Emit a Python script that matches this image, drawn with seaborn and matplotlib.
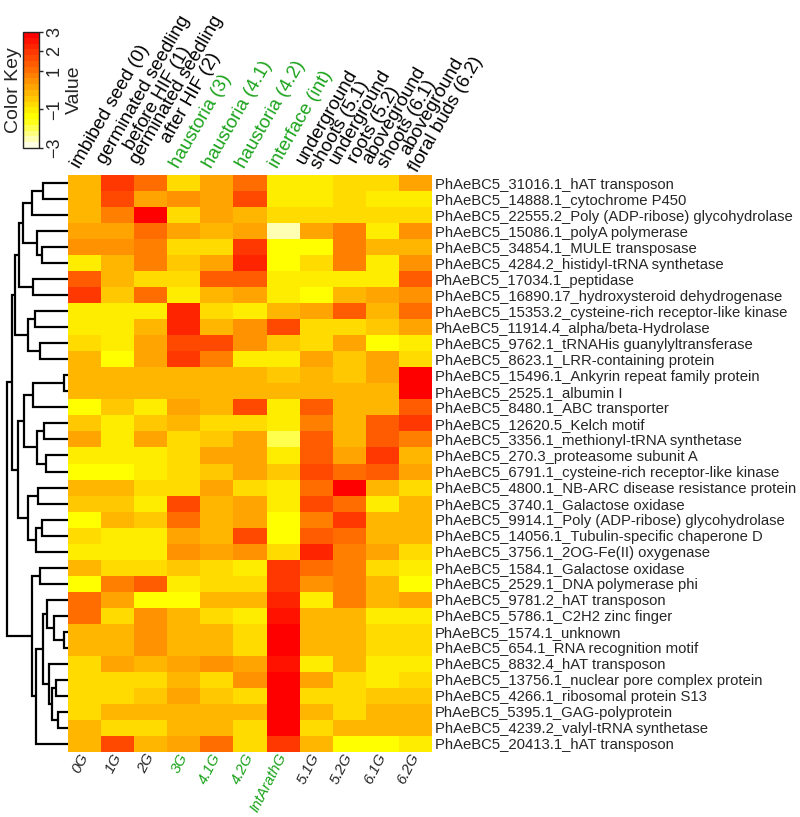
import numpy as np
import pandas as pd
import matplotlib
matplotlib.use("Agg")
import matplotlib.pyplot as plt
import seaborn as sns
from matplotlib.colors import ListedColormap, hsv_to_rgb, Normalize
from matplotlib.cm import ScalarMappable

samples = ["0G", "1G", "2G", "3G", "4.1G", "4.2G", "IntArathG", "5.1G", "5.2G", "6.1G", "6.2G"]
stages = ["imbibed seed (0)", "germinated seedling\nbefore HIF (1)", "germinated seedling\nafter HIF (2)",
          "haustoria (3)", "haustoria (4.1)", "haustoria (4.2)", "interface (int)",
          "underground\nshoots (5.1)", "underground\nroots (5.2)", "aboveground\nshoots (6.1)",
          "aboveground\nfloral buds (6.2)"]
green_samples = ["3G", "4.1G", "4.2G", "IntArathG"]

genes = [
    "PhAeBC5_31016.1_hAT transposon", "PhAeBC5_14888.1_cytochrome P450",
    "PhAeBC5_22555.2_Poly (ADP-ribose) glycohydrolase", "PhAeBC5_15086.1_polyA polymerase",
    "PhAeBC5_34854.1_MULE transposase", "PhAeBC5_4284.2_histidyl-tRNA synthetase",
    "PhAeBC5_17034.1_peptidase", "PhAeBC5_16890.17_hydroxysteroid dehydrogenase",
    "PhAeBC5_15353.2_cysteine-rich receptor-like kinase", "PhAeBC5_11914.4_alpha/beta-Hydrolase",
    "PhAeBC5_9762.1_tRNAHis guanylyltransferase", "PhAeBC5_8623.1_LRR-containing protein",
    "PhAeBC5_15496.1_Ankyrin repeat family protein", "PhAeBC5_2525.1_albumin I",
    "PhAeBC5_8480.1_ABC transporter", "PhAeBC5_12620.5_Kelch motif",
    "PhAeBC5_3356.1_methionyl-tRNA synthetase", "PhAeBC5_270.3_proteasome subunit A",
    "PhAeBC5_6791.1_cysteine-rich receptor-like kinase", "PhAeBC5_4800.1_NB-ARC disease resistance protein",
    "PhAeBC5_3740.1_Galactose oxidase", "PhAeBC5_9914.1_Poly (ADP-ribose) glycohydrolase",
    "PhAeBC5_14056.1_Tubulin-specific chaperone D", "PhAeBC5_3756.1_2OG-Fe(II) oxygenase",
    "PhAeBC5_1584.1_Galactose oxidase", "PhAeBC5_2529.1_DNA polymerase phi",
    "PhAeBC5_9781.2_hAT transposon", "PhAeBC5_5786.1_C2H2 zinc finger",
    "PhAeBC5_1574.1_unknown", "PhAeBC5_654.1_RNA recognition motif",
    "PhAeBC5_8832.4_hAT transposon", "PhAeBC5_13756.1_nuclear pore complex protein",
    "PhAeBC5_4266.1_ribosomal protein S13", "PhAeBC5_5395.1_GAG-polyprotein",
    "PhAeBC5_4239.2_valyl-tRNA synthetase", "PhAeBC5_20413.1_hAT transposon",
]

values = [
    [-0.1, 1.9, 1.0, -0.8, 0.2, 1.0, -1.2, -1.0, -0.7, -0.7, 0.2],
    [-0.1, 1.6, 0.2, 0.5, 0.1, 1.6, -1.0, -1.0, -0.7, -1.1, -1.1],
    [-0.2, 0.6, 2.7, -0.7, 0.1, -0.2, -0.7, -0.7, -0.7, -0.7, -0.7],
    [0.2, 0.2, 0.9, 0.1, -0.2, 0.2, -2.5, 0.2, 0.6, -1.0, 0.5],
    [0.5, 0.5, 0.6, -0.7, -0.7, 2.0, -1.4, -1.4, 0.6, -0.2, -0.1],
    [-1.1, -0.2, 0.6, -0.4, 0.2, 2.3, -1.3, -0.7, 0.6, -1.0, 0.5],
    [1.3, -0.2, -0.7, -0.7, 1.3, 1.3, -1.0, -1.0, -1.0, -1.0, 1.4],
    [2.0, -0.5, 0.9, -1.1, -0.2, 0.2, -1.0, -1.4, -0.2, 0.1, 0.5],
    [-1.0, -1.0, -1.0, 2.1, -0.7, -1.0, -0.2, 0.2, 1.4, -0.2, 0.9],
    [-1.0, -1.0, -0.2, 2.1, -0.1, 0.5, 1.6, -0.7, -0.7, -0.5, 0.1],
    [-0.7, -1.0, 0.1, 1.8, 1.6, 0.5, -0.4, -0.7, 0.1, -1.5, -1.0],
    [-0.2, -1.4, 0.1, 2.0, 0.75, -1.0, -1.0, 0.3, -0.5, 0.1, -0.8],
    [-0.2, -0.2, -0.2, -0.2, -0.2, -0.2, -0.5, -0.2, -0.5, 0.2, 3.0],
    [-0.1, -0.1, -0.1, -0.1, -0.1, -0.1, -0.1, -0.1, -0.1, -0.1, 3.0],
    [-1.3, -0.4, -1.0, 0.1, -0.2, 1.8, -1.0, 1.4, -0.2, -0.1, 1.3],
    [-0.4, -1.0, -0.5, -0.2, -0.7, -0.7, -1.0, 0.6, -0.2, 1.3, 2.0],
    [0.2, -1.0, 0.2, -0.8, -0.4, 0.1, -1.9, 1.3, -0.2, 1.3, 0.75],
    [-1.0, -1.0, -1.0, -0.7, 0.3, 0.1, -1.0, 1.3, 0.1, 2.0, -0.1],
    [-1.5, -1.5, -1.0, -0.7, -0.4, 0.1, -0.5, 1.6, 0.9, 1.3, 0.2],
    [-0.2, -0.2, -0.7, -0.7, 0.1, -0.8, -1.0, 1.0, 2.8, -0.2, -0.8],
    [-0.4, -0.4, -1.0, 1.6, -0.2, 0.1, -1.0, 1.6, 0.9, -1.1, -0.2],
    [-1.4, -0.2, -0.5, 1.0, -0.2, 0.1, -1.4, 0.6, 1.9, -0.2, -0.2],
    [-0.6, -1.0, -1.0, 0.1, -0.2, 1.6, -1.4, 1.3, 0.9, -0.2, -0.2],
    [-1.0, -1.0, -1.0, 0.5, 0.1, 0.5, -0.7, 2.3, 0.6, 0.1, -0.9],
    [-0.1, -0.7, -0.7, -0.4, -0.8, -1.1, 1.9, 1.1, 0.75, -0.8, -1.0],
    [-1.4, 0.75, 1.3, -1.0, -0.7, -0.7, 1.9, 0.5, 0.6, -0.2, -1.4],
    [0.9, 0.2, -1.4, -1.4, -0.2, -0.1, 2.1, -1.0, 0.6, -0.2, 0.2],
    [0.9, -0.7, 0.5, -0.2, -0.7, -1.0, 2.5, -0.2, -0.2, -1.0, -1.0],
    [-0.2, -0.2, 0.5, -0.2, -0.2, -0.7, 2.7, -0.2, -0.2, -0.7, -0.7],
    [-0.2, -0.2, 0.5, -0.2, -0.2, -0.7, 3.0, -0.2, -0.2, -0.7, -0.7],
    [-0.7, 0.1, -0.2, 0.1, 0.5, 0.1, 2.6, -1.1, -0.2, -1.0, -1.0],
    [-0.6, -0.6, -0.6, -0.1, -0.6, 0.4, 2.9, 0.1, -0.7, -1.0, -0.6],
    [-0.6, -0.6, -0.4, 0.3, -0.5, -0.8, 2.9, -0.7, -0.7, -0.4, -0.5],
    [-0.6, -0.3, -0.3, -0.3, -0.3, -0.3, 3.0, -0.3, -0.6, -0.2, -0.3],
    [-0.3, -0.7, -0.7, -0.3, -0.3, -0.7, 3.0, -0.7, -0.2, -0.2, -0.2],
    [-0.1, 1.6, -0.1, 0.1, 1.1, -0.7, 1.9, -0.1, -1.5, -1.5, -1.1],
]

# row dendrogram: (left, right, height); leaves 0..35, merge k -> node 36+k
row_merges = [
    (0, 1, 25), (36, 2, 36), (4, 5, 26), (3, 38, 31), (37, 39, 45),
    (6, 7, 35), (40, 41, 49), (8, 9, 33), (10, 11, 28), (43, 44, 40),
    (42, 45, 53), (12, 13, 4), (47, 14, 35), (15, 16, 24), (17, 18, 22),
    (49, 50, 31), (48, 51, 44), (19, 20, 30), (21, 22, 26), (54, 23, 32),
    (53, 55, 40), (52, 56, 50), (46, 57, 56), (24, 25, 28), (28, 29, 4),
    (27, 60, 14), (26, 61, 21), (31, 32, 12), (33, 34, 10), (63, 64, 16),
    (30, 65, 19), (62, 66, 25), (67, 35, 32), (59, 68, 36), (58, 69, 61),
]


def heat_colors(n):
    # R heat.colors, reversed (low = pale yellow, high = red)
    j = n // 4
    i = n - j
    cols = [hsv_to_rgb((h, 1, 1)) for h in np.linspace(0, 1 / 6, i)]
    if j > 0:
        cols += [hsv_to_rgb((1 / 6, s, 1)) for s in np.linspace(1 - 1 / (2 * j), 1 / (2 * j), j)]
    return cols[::-1]


cmap = ListedColormap(heat_colors(20))
df = pd.DataFrame(values, index=genes, columns=samples)

sns.set_style("white")
plt.rcParams["font.family"] = ["Liberation Sans", "DejaVu Sans"]

W, H = 800, 817
fig = plt.figure(figsize=(W / 100, H / 100), dpi=100)


def box(x0, y0, x1, y1):
    return [x0 / W, 1 - y1 / H, (x1 - x0) / W, (y1 - y0) / H]


HX0, HY0, HX1, HY1 = 68, 175, 432, 752
cw = (HX1 - HX0) / len(samples)
rh = (HY1 - HY0) / len(genes)

# heatmap
ax = fig.add_axes(box(HX0, HY0, HX1, HY1))
sns.heatmap(df, ax=ax, cmap=cmap, vmin=-3, vmax=3, cbar=False,
            xticklabels=True, yticklabels=True)
ax.yaxis.tick_right()
ax.tick_params(axis="y", length=0, pad=2, labelsize=10.7, rotation=0)
ax.tick_params(axis="x", length=0, pad=1.5, labelsize=10.8)
ax.set_xlabel("")
ax.set_ylabel("")
for lab in ax.get_yticklabels():
    lab.set_horizontalalignment("left")
for lab in ax.get_xticklabels():
    lab.set_rotation(63)
    lab.set_ha("right")
    lab.set_va("center")
    lab.set_rotation_mode("anchor")
    lab.set_fontstyle("italic")
    if lab.get_text() in green_samples:
        lab.set_color("#1aa31a")

# top labels
for j, s in enumerate(stages):
    col = "#1aa31a" if samples[j] in green_samples else "black"
    ax.text(j + 0.5 - 9 / cw, -8 / rh, s, rotation=60, rotation_mode="anchor",
            ha="left", va="center", multialignment="center", fontsize=13.5,
            linespacing=0.88, color=col, clip_on=False)

# row dendrogram
dax = fig.add_axes(box(5, HY0, HX0, HY1))
n = len(genes)
pos = {i: (i + 0.5, 0.0) for i in range(n)}
for k, (a, b, h) in enumerate(row_merges):
    ya, ha = pos[a]
    yb, hb = pos[b]
    dax.plot([ha, h, h, hb], [ya, ya, yb, yb], color="black", lw=1.6,
             solid_capstyle="butt", solid_joinstyle="miter")
    pos[n + k] = ((ya + yb) / 2, h)
dax.set_ylim(n, 0)
dax.set_xlim(max(m[2] for m in row_merges) + 1.5, 0)
dax.axis("off")

# color key
kax = fig.add_axes(box(23, 32, 39, 148))
cb = fig.colorbar(ScalarMappable(norm=Normalize(-3, 3), cmap=cmap), cax=kax)
cb.set_ticks([-3, -1, 1, 2, 3])
cb.set_ticklabels(["\u22123", "\u22121", "1", "2", "3"])
cb.outline.set_linewidth(1)
kax.tick_params(length=3, width=1, labelsize=13, pad=2)
for lab in kax.get_yticklabels():
    lab.set_rotation(90)
    lab.set_va("center")
kax.set_ylabel("Value", fontsize=14, rotation=90, labelpad=2)
kax.yaxis.set_label_position("right")
fig.text(14 / W, 1 - 90 / H, "Color Key", rotation=90, fontsize=14, ha="center", va="center")

fig.savefig("out.png", dpi=100)
